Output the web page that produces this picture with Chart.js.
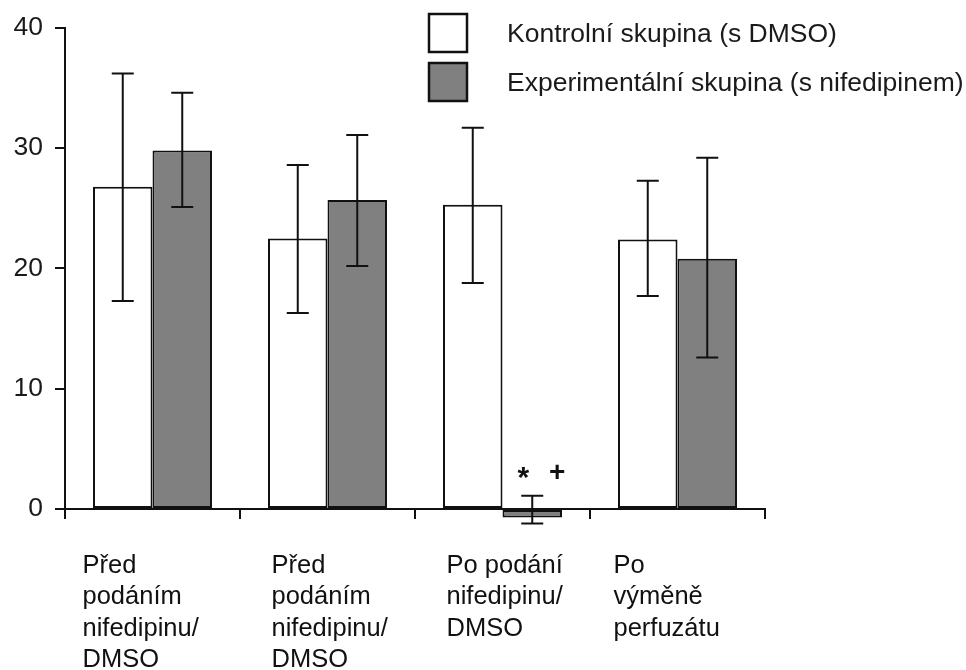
<!DOCTYPE html>
<html>
<head>
<meta charset="utf-8">
<script src="https://cdn.jsdelivr.net/npm/chart.js@4.4.1/dist/chart.umd.min.js"></script>
<style>
    html, body { margin: 0; padding: 0; background: #fff; }
    #wrap { width: 966px; height: 670px; }
</style>
</head>
<body>
<div id="wrap"><canvas id="barChart" width="966" height="670"></canvas></div>
<script>
// categories (multi-line tick labels)
const categories = [
    ["Před", "podáním", "nifedipinu/", "DMSO"],
    ["Před", "podáním", "nifedipinu/", "DMSO"],
    ["Po podání", "nifedipinu/", "DMSO"],
    ["Po", "výměně", "perfuzátu"]
];

const seriesNames = ["Kontrolní skupina (s DMSO)", "Experimentální skupina (s nifedipinem)"];

// control group (DMSO)
const controlValues = [26.8, 22.5, 25.3, 22.4];
const controlLow = [17.3, 16.3, 18.8, 17.7];
const controlHigh = [36.2, 28.6, 31.7, 27.3];

// experimental group (nifedipine)
const nifedValues = [29.8, 25.7, -0.7, 20.8];
const nifedLow = [25.1, 20.2, -1.2, 12.6];
const nifedHigh = [34.6, 31.1, 1.1, 29.2];

// significance marks above the experimental bars
const nifedMarks = ["", "", "* +", ""];

const yTicks = [0, 10, 20, 30, 40];

const FONT = "'Liberation Sans', Arial, sans-serif";
// category labels are left-aligned, shifted from the group centre
const labelShift = [-70, -56, -56, -64];

const errorBars = {
    id: "errorBars",
    afterDraw(chart) {
        const ctx = chart.ctx;
        const y = chart.scales.y;
        const ranges = [[controlLow, controlHigh], [nifedLow, nifedHigh]];
        ctx.save();
        ctx.strokeStyle = "#111";
        ctx.lineWidth = 2;
        ranges.forEach(([lo, hi], d) => {
            const meta = chart.getDatasetMeta(d);
            meta.data.forEach((bar, i) => {
                const x = bar.x;
                const yl = y.getPixelForValue(lo[i]);
                const yh = y.getPixelForValue(hi[i]);
                ctx.beginPath();
                ctx.moveTo(x, yl);
                ctx.lineTo(x, yh);
                ctx.moveTo(x - 11, yl);
                ctx.lineTo(x + 11, yl);
                ctx.moveTo(x - 11, yh);
                ctx.lineTo(x + 11, yh);
                ctx.stroke();
            });
        });

        // significance marks
        const meta = chart.getDatasetMeta(1);
        ctx.fillStyle = "#111";
        ctx.textAlign = "center";
        ctx.textBaseline = "middle";
        nifedMarks.forEach((m, i) => {
            if (!m) return;
            const parts = m.split(" ");
            const x = meta.data[i].x;
            const top = y.getPixelForValue(nifedHigh[i]) - 22;
            ctx.font = "bold 30px " + FONT;
            ctx.fillText(parts[0], x - 9, top + 5);
            ctx.font = "bold 28px " + FONT;
            ctx.fillText(parts[1], x + 25, top);
        });
        ctx.restore();
    }
};

// x category labels, left aligned under each group
const groupLabels = {
    id: "groupLabels",
    afterDraw(chart) {
        const ctx = chart.ctx;
        const x = chart.scales.x;
        const base = x.top + 64;
        ctx.save();
        ctx.fillStyle = "#111";
        ctx.font = "25.5px " + FONT;
        ctx.textAlign = "left";
        ctx.textBaseline = "alphabetic";
        chart.data.labels.forEach((lines, i) => {
            const left = x.getPixelForValue(i) + labelShift[i];
            lines.forEach((t, j) => ctx.fillText(t, left, base + j * 31.3));
        });
        ctx.restore();
    }
};

const boxLegend = {
    id: "boxLegend",
    afterDraw(chart) {
        const ctx = chart.ctx;
        ctx.save();
        chart.data.datasets.forEach((ds, i) => {
            const top = 14 + i * 49;
            ctx.fillStyle = ds.backgroundColor;
            ctx.fillRect(429, top, 38, 38);
            ctx.strokeStyle = "#111";
            ctx.lineWidth = 2.5;
            ctx.strokeRect(429, top, 38, 38);
            ctx.fillStyle = "#1a1a1a";
            ctx.font = "26.5px " + FONT;
            ctx.textAlign = "left";
            ctx.textBaseline = "middle";
            ctx.fillText(ds.label, 507, top + 21);
        });
        ctx.restore();
    }
};

new Chart(document.getElementById("barChart"), {
    type: "bar",
    data: {
        labels: categories,
        datasets: [
            {
                label: seriesNames[0],
                data: controlValues,
                backgroundColor: "#ffffff",
                borderColor: "#111",
                borderWidth: 2,
                borderSkipped: false,
                clip: false
            },
            {
                label: seriesNames[1],
                data: nifedValues,
                backgroundColor: "#808080",
                borderColor: "#111",
                borderWidth: 2,
                borderSkipped: false,
                clip: false
            }
        ]
    },
    options: {
        responsive: false,
        animation: false,
        layout: { padding: { top: 24, right: 201, left: 0, bottom: 0 } },
        plugins: {
            legend: { display: false },
            tooltip: { enabled: false }
        },
        datasets: {
            bar: { categoryPercentage: 0.68, barPercentage: 1.0 }
        },
        scales: {
            x: {
                z: 1,
                offset: true,
                grid: {
                    offset: true,
                    drawOnChartArea: false,
                    color: "#111",
                    lineWidth: 2,
                    tickLength: 10
                },
                border: { color: "#111", width: 2 },
                ticks: { display: false },
                afterFit(scale) { scale.height = 161; }
            },
            y: {
                min: 0,
                max: 40,
                afterBuildTicks(scale) { scale.ticks = yTicks.map(v => ({ value: v })); },
                grid: {
                    drawOnChartArea: false,
                    color: "#111",
                    lineWidth: 2,
                    tickLength: 10
                },
                border: { color: "#111", width: 2 },
                ticks: {
                    padding: 12,
                    color: "#1a1a1a",
                    font: { family: FONT, size: 26.5 }
                },
                afterFit(scale) { scale.width = 65; }
            }
        }
    },
    plugins: [errorBars, groupLabels, boxLegend]
});
</script>
</body>
</html>
